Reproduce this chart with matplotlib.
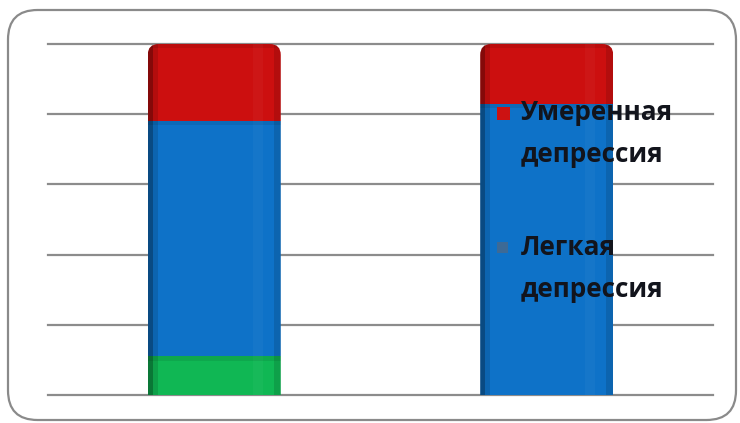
import matplotlib.pyplot as plt
from matplotlib.patches import FancyBboxPatch, Rectangle
import numpy as np

# данные (проценты)
groups = ['Группа 1', 'Группа 2']
labels = ['Нет депрессии', 'Легкая депрессия', 'Умеренная депрессия']
no_dep = [11, 0]
mild = [67, 83]
moderate = [22, 17]
colors = ['#10b754', '#0e72c8', '#cc0f0f']

W, H = 740, 423
fig = plt.figure(figsize=(W / 100, H / 100), dpi=100)
fig.patch.set_facecolor('white')

# рамка со скругленными углами
frame = FancyBboxPatch((8 / W, 3 / H), 728 / W, 410 / H,
                       boxstyle='round,pad=0,rounding_size=0.04',
                       mutation_aspect=W / H,
                       transform=fig.transFigure, facecolor='white',
                       edgecolor='#8a8a8a', linewidth=1.6, zorder=-5)
fig.add_artist(frame)

ax = fig.add_axes([48 / W, 28 / H, 665 / W, 351 / H])
ax.set_facecolor('none')
ax.set_xlim(-0.5, 1.5)
ax.set_ylim(0, 100)
for s in ax.spines.values():
    s.set_visible(False)
ax.set_xticks([])
ax.set_yticks([])

# линии сетки
for yv in range(0, 101, 20):
    ax.axhline(yv, color='#8c8c8c', lw=1.6, zorder=1, clip_on=False)

x = np.arange(len(groups))
width = 0.4
series = [no_dep, mild, moderate]

# пикселей на единицу данных
px_x = 665 / 2.0
px_y = 351 / 100.0
r = 11 / px_x  # радиус скругления

for i, xi in enumerate(x):
    clip = FancyBboxPatch((xi - width / 2, -30), width, 130,
                          boxstyle='round,pad=0,rounding_size=%f' % r,
                          mutation_aspect=px_x / px_y,
                          transform=ax.transData, facecolor='none',
                          edgecolor='none')
    bottom = 0
    for vals, c in zip(series, colors):
        v = vals[i]
        if v <= 0:
            continue
        bar = ax.bar(xi, v, width, bottom=bottom, color=c, zorder=3,
                     linewidth=0)[0]
        bar.set_clip_path(clip)
        # тонкая темная полоса на границе сегмента
        sep = ax.bar(xi, 1.2, width, bottom=bottom + v - 1.2, color='black',
                     alpha=0.08, zorder=4, linewidth=0)[0]
        sep.set_clip_path(clip)
        bottom += v
    # объемный эффект по краям
    for dx, w, a, col in [(0, 5 / px_x, 0.35, 'black'),
                          (5 / px_x, 5 / px_x, 0.12, 'black'),
                          (width - 7 / px_x, 7 / px_x, 0.12, 'black'),
                          (width - 28 / px_x, 10 / px_x, 0.03, 'white')]:
        e = ax.bar(xi - width / 2 + dx, 100, w, align='edge', color=col,
                   alpha=a, zorder=5, linewidth=0)[0]
        e.set_clip_path(clip)

# легенда
font = dict(family=['Open Sans', 'DejaVu Sans'], fontweight='bold',
            fontsize=18.8, color='#12141c', linespacing=1.7)
legend_items = [(labels[2], 107, 13, '#cc1212'),
                (labels[1], 242, 11, '#3d6a96')]
for text, ytop, sz, mc in legend_items:
    fig.add_artist(Rectangle((497 / W, 1 - (ytop + sz) / H), sz / W, sz / H,
                             transform=fig.transFigure, facecolor=mc,
                             edgecolor='none', zorder=10))
    fig.text(521 / W, 1 - (ytop - 8) / H, text.replace(' ', '\n'),
             ha='left', va='top', zorder=11, **font)

fig.savefig('out.png', dpi=100)
